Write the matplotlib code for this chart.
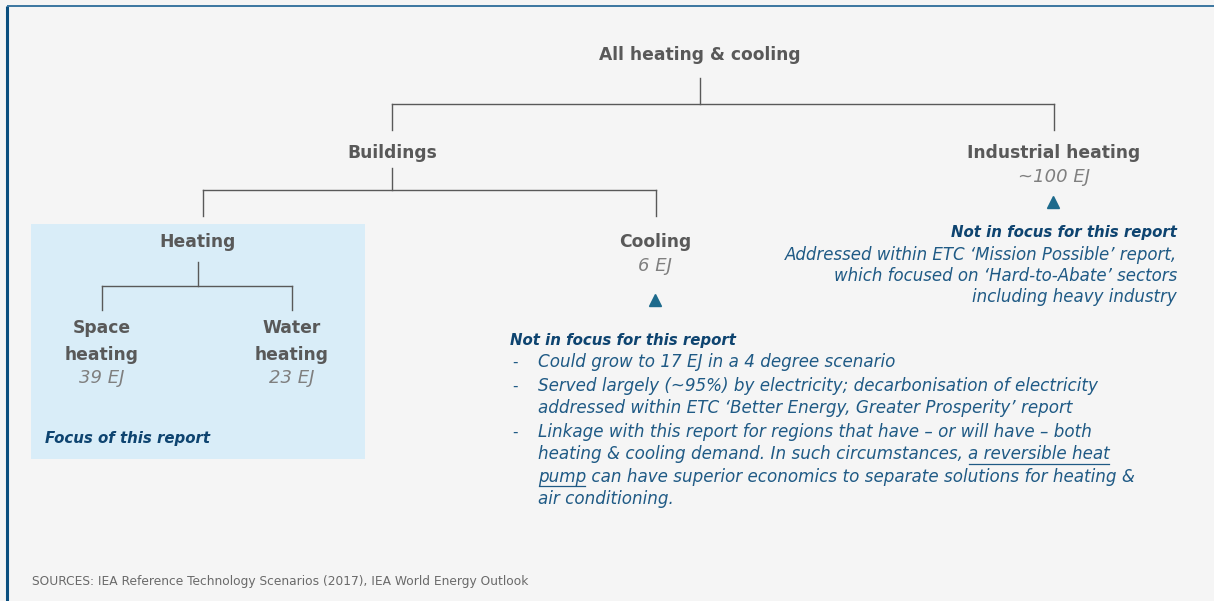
import matplotlib.pyplot as plt
from matplotlib.patches import Rectangle

# tree content
top_label = "All heating & cooling"
level1_labels = ["Buildings", "Industrial heating"]
level1_values = ["", "~100 EJ"]
level2_labels = ["Heating", "Cooling"]
level2_values = ["", "6 EJ"]
level3_labels = ["Space\nheating", "Water\nheating"]
level3_values = ["39 EJ", "23 EJ"]

focus_note = "Focus of this report"
not_focus_title = "Not in focus for this report"
industry_note = ["Addressed within ETC \u2018Mission Possible\u2019 report,",
                 "which focused on \u2018Hard-to-Abate\u2019 sectors",
                 "including heavy industry"]
cooling_bullets = [
    ["Could grow to 17 EJ in a 4 degree scenario"],
    ["Served largely (~95%) by electricity; decarbonisation of electricity",
     "addressed within ETC \u2018Better Energy, Greater Prosperity\u2019 report"],
    ["Linkage with this report for regions that have \u2013 or will have \u2013 both",
     "heating & cooling demand. In such circumstances, |a reversible heat|",
     "|pump| can have superior economics to separate solutions for heating &",
     "air conditioning."],
]
source_text = "SOURCES: IEA Reference Technology Scenarios (2017), IEA World Energy Outlook"

# styles
BG = "#f5f5f5"
GREY = "#595959"
LIGHT_GREY = "#7f7f7f"
LINE = "#595959"
BLUE = "#1f5a85"
DARK_BLUE = "#0e4470"
TRI = "#1d6a8c"
BOX = "#d9edf8"
FONT = "DejaVu Sans"

fig = plt.figure(figsize=(12.14, 6.01), dpi=100, facecolor=BG)
ax = fig.add_axes([0, 0, 1, 1])
ax.set_xlim(0, 1214)
ax.set_ylim(601, 0)
ax.axis("off")
ax.set_facecolor(BG)

# frame lines
ax.plot([7, 7], [6, 601], color="#0b4f7f", lw=2.2, solid_capstyle="butt")
ax.plot([7, 1214], [6, 6], color="#3a76a0", lw=1.4, solid_capstyle="butt")

# focus box
ax.add_patch(Rectangle((31, 224), 334, 235, facecolor=BOX, edgecolor="none", zorder=0))


def head(x, y, s):
    ax.text(x, y, s, ha="center", va="center", fontsize=12.3, fontweight="bold",
            color=GREY, family=FONT, linespacing=1.6)


def value(x, y, s):
    ax.text(x, y, s, ha="center", va="center", fontsize=13, style="italic",
            color=LIGHT_GREY, family=FONT)


def bracket(xc, y0, y1, xs, y3):
    ax.plot([xc, xc], [y0, y1], color=LINE, lw=1)
    ax.plot([xs[0], xs[-1]], [y1, y1], color=LINE, lw=1)
    for x in xs:
        ax.plot([x, x], [y1, y3], color=LINE, lw=1)


# level 0
head(700, 55, top_label)
bracket(700, 78, 104, [392, 1054], 130)

# level 1
l1_x = [392, 1054]
for x, lab, val in zip(l1_x, level1_labels, level1_values):
    head(x, 153, lab)
    if val:
        value(x, 177, val)
bracket(392, 168, 190, [203, 656], 216)

# level 2
l2_x = [198, 655]
for x, lab, val in zip(l2_x, level2_labels, level2_values):
    head(x, 242, lab)
    if val:
        value(x, 266, val)
bracket(198, 262, 286, [102, 292], 310)

# level 3
l3_x = [102, 292]
for x, lab, val in zip(l3_x, level3_labels, level3_values):
    head(x, 341.5, lab)
    value(x, 378, val)

ax.text(45, 439, focus_note, ha="left", va="center", fontsize=10.8, fontweight="bold",
        style="italic", color=DARK_BLUE, family=FONT)

# triangles
ax.plot([1053, 655], [202, 300], linestyle="none", marker="^", markersize=9, color=TRI)

# industrial note
ax.text(1177, 233, not_focus_title, ha="right", va="center", fontsize=10.8,
        fontweight="bold", style="italic", color=DARK_BLUE, family=FONT)
for i, line in enumerate(industry_note):
    ax.text(1177, 254.5 + i * 21.5, line, ha="right", va="center", fontsize=12,
            style="italic", color=BLUE, family=FONT)

# cooling note
ax.text(510, 340, not_focus_title, ha="left", va="center", fontsize=10.8,
        fontweight="bold", style="italic", color=DARK_BLUE, family=FONT)

fig.canvas.draw()
renderer = fig.canvas.get_renderer()
inv = ax.transData.inverted()

y = 362
for bullet in cooling_bullets:
    ax.text(512, y, "-", ha="left", va="center", fontsize=11, color=BLUE, family=FONT)
    for line in bullet:
        x = 538
        parts = line.split("|")
        for k, part in enumerate(parts):
            if not part:
                continue
            t = ax.text(x, y, part, ha="left", va="center", fontsize=12.1,
                        style="italic", color=BLUE, family=FONT)
            bb = t.get_window_extent(renderer)
            (x0, _), (x1, _) = inv.transform([[bb.x0, bb.y0], [bb.x1, bb.y1]])
            if k % 2 == 1:
                ax.plot([x0 + 1, x1 - 1], [y + 9.5, y + 9.5], color=BLUE, lw=0.9)
            x = x1
        y += 22.3
    y += 1.5

ax.text(32, 582, source_text, ha="left", va="center", fontsize=8.8, color="#6a6a6a",
        family=FONT)

fig.savefig("out.png", dpi=100, facecolor=BG)
